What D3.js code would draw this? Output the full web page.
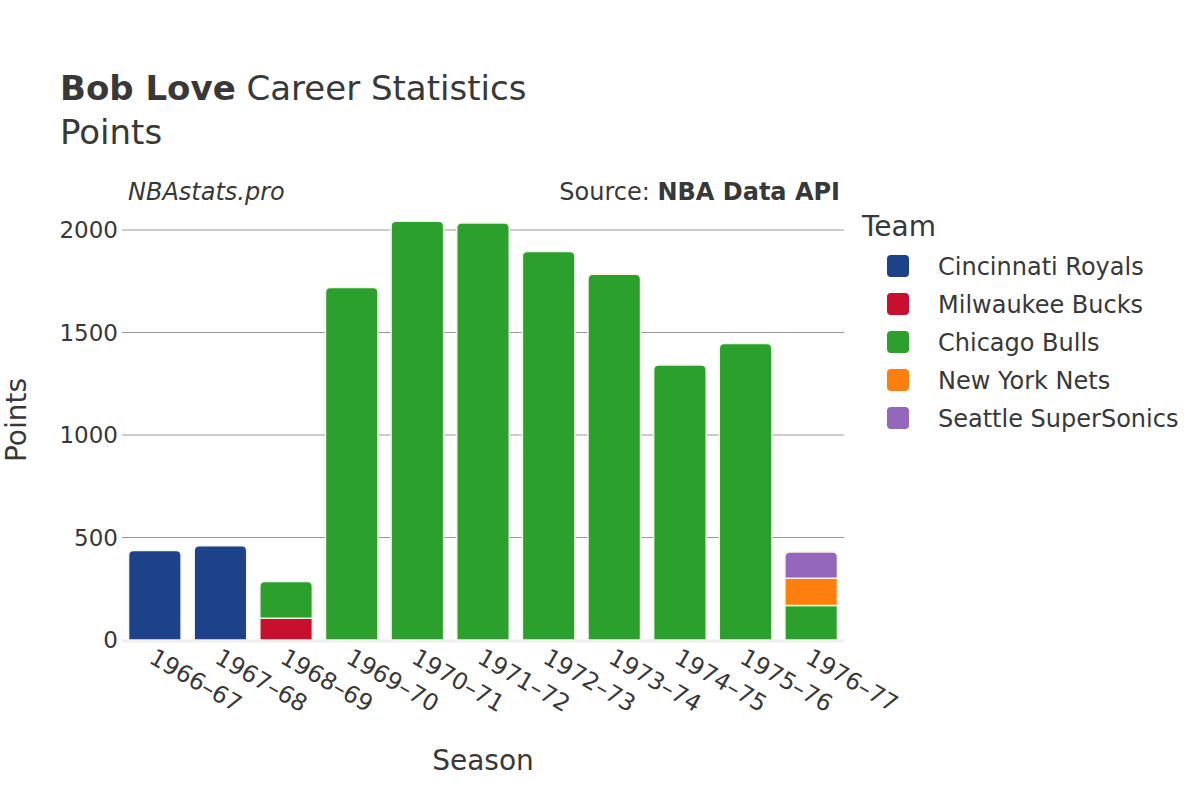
<!DOCTYPE html>
<html><head><meta charset="utf-8">
<script src="https://cdn.jsdelivr.net/npm/d3@7"></script>
<style>body{margin:0;background:#fff;font-family:"DejaVu Sans",sans-serif;}</style>
</head><body><svg id="c" width="1200" height="800"></svg>
<script>
const seasons = ["1966–67","1967–68","1968–69","1969–70","1970–71","1971–72","1972–73","1973–74","1974–75","1975–76","1976–77"];
const teams = ["Cincinnati Royals","Milwaukee Bucks","Chicago Bulls","New York Nets","Seattle SuperSonics"];
const teamColors = ["#1d428a","#c8102e","#2ca02c","#ff7f0e","#9467bd"];
const cincinnati = [436,460,0,0,0,0,0,0,0,0,0];
const milwaukee  = [0,0,106,0,0,0,0,0,0,0,0];
const chicago    = [0,0,179,1720,2043,2034,1895,1784,1342,1446,168];
const nets       = [0,0,0,0,0,0,0,0,0,0,133];
const seattle    = [0,0,0,0,0,0,0,0,0,0,128];
const yTicks = [0,500,1000,1500,2000];

const seriesVals = [cincinnati, milwaukee, chicago, nets, seattle];
const svg = d3.select("#c");
const W = 1200, H = 800;
const m = {l:122, r:356, t:210, b:160};
const x = d3.scaleBand().domain(seasons).range([m.l, W - m.r]).paddingInner(0.2).paddingOuter(0.1);
const y = d3.scaleLinear().domain([0,2000]).range([640,230]);
const txt = "#383838";

// grid
svg.append("g").selectAll("line").data(yTicks.filter(d=>d>0)).join("line")
  .attr("x1", m.l).attr("x2", W-m.r).attr("y1", d=>y(d)).attr("y2", d=>y(d))
  .attr("stroke","#999").attr("stroke-width",1);
svg.append("line").attr("x1",m.l).attr("x2",W-m.r).attr("y1",y(0)+1).attr("y2",y(0)+1)
  .attr("stroke","#eee").attr("stroke-width",3);

// stacked bars
const rows = seasons.map((s,i)=>{const o={season:s}; teams.forEach((t,j)=>o[t]=seriesVals[j][i]); return o;});
const stack = d3.stack().keys(teams)(rows);
const r = 5;
function barPath(x0,w,yTop,yBot,round){
  const h = yBot - yTop;
  if(!round || h < r) return `M${x0},${yBot}V${yTop}H${x0+w}V${yBot}Z`;
  return `M${x0},${yBot}V${yTop+r}Q${x0},${yTop} ${x0+r},${yTop}H${x0+w-r}Q${x0+w},${yTop} ${x0+w},${yTop+r}V${yBot}Z`;
}
stack.forEach((layer,j)=>{
  svg.append("g").selectAll("path").data(layer.map((d,i)=>({d,i}))).join("path")
    .filter(o=>o.d[1]-o.d[0]>0)
    .attr("d", o=>{
      const top = seriesVals.slice(j+1).every(sv=>sv[o.i]===0);
      return barPath(x(seasons[o.i]), x.bandwidth(), y(o.d[1]), y(o.d[0]), top);
    })
    .attr("fill", teamColors[j]).attr("stroke","#f4f4e8").attr("stroke-width",1.5);
});

// y axis labels
svg.append("g").selectAll("text").data(yTicks).join("text")
  .attr("x", m.l-4).attr("y", d=>y(d)).attr("dy","0.35em").attr("text-anchor","end")
  .attr("font-size",23).attr("fill",txt).text(d=>d);

// x axis labels
svg.append("g").selectAll("text").data(seasons).join("text")
  .attr("transform", d=>`translate(${x(d)+x.bandwidth()/2-7},${662}) rotate(30)`)
  .attr("text-anchor","start").attr("font-size",23.5).attr("fill",txt).text(d=>d);

// axis titles
svg.append("text").attr("x",483).attr("y",770).attr("text-anchor","middle").attr("font-size",28).attr("fill",txt).text("Season");
svg.append("text").attr("transform","translate(26,420) rotate(-90)").attr("text-anchor","middle").attr("font-size",28).attr("fill",txt).text("Points");

// titles
const t1 = svg.append("text").attr("x",60).attr("y",100).attr("font-size",34).attr("fill",txt);
t1.append("tspan").attr("font-weight","bold").text("Bob Love");
t1.append("tspan").text(" Career Statistics");
svg.append("text").attr("x",60).attr("y",144).attr("font-size",34).attr("fill",txt).text("Points");
svg.append("text").attr("x",128).attr("y",200).attr("font-size",24).attr("font-style","italic").attr("fill",txt).text("NBAstats.pro");
const src = svg.append("text").attr("x",840).attr("y",200).attr("text-anchor","end").attr("font-size",24).attr("fill",txt);
src.append("tspan").text("Source: ");
src.append("tspan").attr("font-weight","bold").text("NBA Data API");

// legend
svg.append("text").attr("x",862).attr("y",236).attr("font-size",28).attr("fill",txt).text("Team");
const lg = svg.append("g").selectAll("g").data(teams).join("g")
  .attr("transform",(d,i)=>`translate(887,${266+i*38})`);
lg.append("rect").attr("x",0).attr("y",-11).attr("width",22).attr("height",22).attr("rx",4)
  .attr("fill",(d,i)=>teamColors[i]);
lg.append("text").attr("x",51).attr("y",1).attr("dy","0.35em").attr("font-size",24).attr("fill",txt).text(d=>d);
</script></body></html>
